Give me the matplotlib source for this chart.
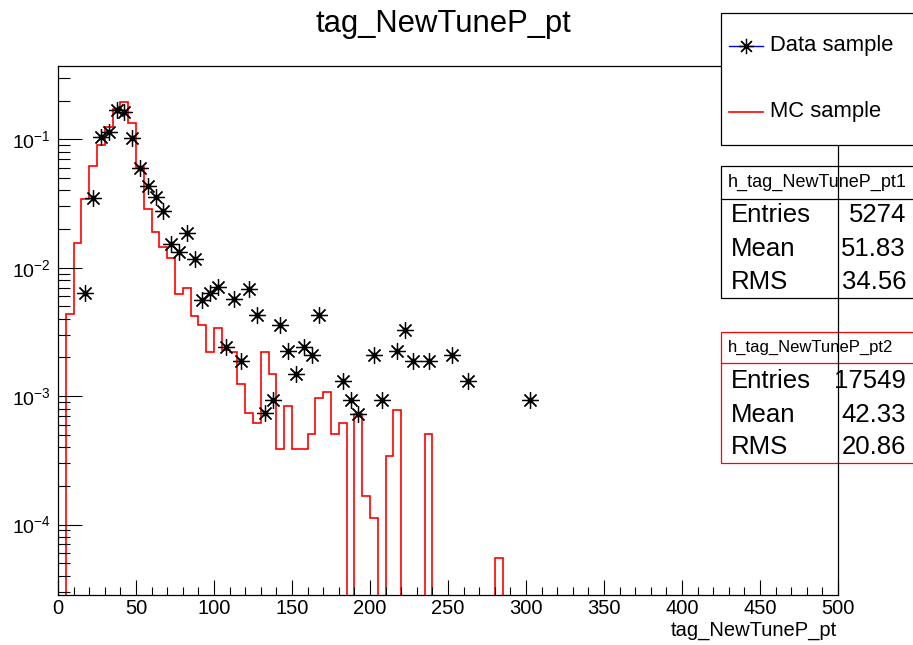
import numpy as np
import matplotlib
matplotlib.use("Agg")
import matplotlib.pyplot as plt
from matplotlib.lines import Line2D
from matplotlib.patches import Rectangle
from matplotlib.ticker import MultipleLocator, LogLocator, FixedLocator, NullFormatter

plt.rcParams['font.family'] = ['Liberation Sans', 'DejaVu Sans']
plt.rcParams['mathtext.fontset'] = 'custom'
plt.rcParams['mathtext.rm'] = 'Liberation Sans'
plt.rcParams['mathtext.it'] = 'Liberation Sans:italic'

W, H = 913, 645

# MC sample: normalised histogram, 5 GeV bins from 0 to 300 (empty above)
mc_edges = np.arange(0, 305, 5)
mc_values = [
    0.0, 0.0044, 0.0155, 0.034, 0.062, 0.090, 0.125, 0.171, 0.196, 0.133,
    0.0605, 0.0284, 0.019, 0.0146, 0.0120, 0.0062, 0.0070, 0.0042, 0.0036, 0.0022,
    0.0034, 0.0023, 0.0022, 0.00125, 0.00074, 0.00062, 0.0022, 0.0015, 0.00039, 0.00084,
    0.00039, 0.00039, 0.00051, 0.00096, 0.00108, 0.00051, 0.00062, 0.0, 0.00073, 0.000167,
    0.000112, 0.0, 0.00034, 0.00078, 0.0, 0.0, 0.0, 0.00051, 0.0, 0.0,
    0.0, 0.0, 0.0, 0.0, 0.0, 0.0, 5.5e-5, 0.0, 0.0, 0.0,
]

# Data sample: bin centres and normalised contents
data_x = [17.5, 22.5, 27.5, 32.5, 37.5, 42.5, 47.5, 52.5, 57.5, 62.5,
          67.5, 72.5, 77.5, 82.5, 87.5, 92.5, 97.5, 102.5, 107.5, 112.5,
          117.5, 122.5, 127.5, 132.5, 137.5, 142.5, 147.5, 152.5, 157.5, 162.5,
          167.5, 182.5, 187.5, 192.5, 202.5, 207.5, 217.5, 222.5, 227.5, 237.5,
          252.5, 262.5, 302.5]
data_y = [0.0063, 0.0347, 0.105, 0.1135, 0.169, 0.164, 0.102, 0.060, 0.0433, 0.0353,
          0.0278, 0.0153, 0.0132, 0.0187, 0.0117, 0.0056, 0.0064, 0.0071, 0.00242, 0.0057,
          0.00188, 0.0068, 0.0043, 0.00074, 0.00093, 0.0036, 0.00224, 0.0015, 0.00242, 0.00208,
          0.0043, 0.00131, 0.00093, 0.00073, 0.00208, 0.00093, 0.00225, 0.0033, 0.00187, 0.00187,
          0.00208, 0.00131, 0.00093]

y_ticks = [1e-4, 1e-3, 1e-2, 1e-1]
y_ticklabels = ['$10^{-4}$', '$10^{-3}$', '$10^{-2}$', '$10^{-1}$']

stats_data = [('Entries', '5274'), ('Mean', '51.83'), ('RMS', '34.56')]
stats_mc = [('Entries', '17549'), ('Mean', '42.33'), ('RMS', '20.86')]


def fx(px):
    return px / W


def fy(py):
    return 1 - py / H


fig = plt.figure(figsize=(W / 100, H / 100), dpi=100)
ax = fig.add_axes([fx(58), fy(595), (838 - 58) / W, (595 - 66) / H])

# MC histogram (empty bins fall below the log axis and get clipped)
mc_plot = np.where(np.array(mc_values) > 0, mc_values, 1e-9)
ax.stairs(mc_plot, mc_edges, color='red', lw=1.2, baseline=None)

# data points, ROOT asterisk marker
star = dict(marker=(8, 2, 0), markersize=12, markeredgewidth=0.9, color='black')
ax.plot(data_x, data_y, ls='none', **star)
ax.plot(data_x, data_y, ls='none', marker='o', markersize=3.2, color='black')

ax.set_yscale('log')
ax.set_xlim(0, 500)
ax.set_ylim(2.83e-5, 0.372)

ax.xaxis.set_major_locator(MultipleLocator(50))
ax.xaxis.set_minor_locator(MultipleLocator(10))
ax.yaxis.set_major_locator(FixedLocator(y_ticks))
ax.set_yticklabels(y_ticklabels)
ax.yaxis.set_minor_locator(LogLocator(base=10, subs=np.arange(2, 10)))
ax.yaxis.set_minor_formatter(NullFormatter())

ax.tick_params(axis='both', which='both', direction='in', top=False, right=False,
               width=0.8, colors='black')
ax.tick_params(axis='x', which='major', length=11, pad=3, labelsize=14.5)
ax.tick_params(axis='x', which='minor', length=5.5)
ax.tick_params(axis='y', which='major', length=17, pad=5, labelsize=14)
ax.tick_params(axis='y', which='minor', length=8.5)
for sp in ax.spines.values():
    sp.set_linewidth(0.9)
    sp.set_zorder(2.5)

# titles
fig.text(fx(443.5), fy(32), 'tag_NewTuneP_pt', ha='center', va='baseline', fontsize=22.3)
fig.text(fx(837), fy(636), 'tag_NewTuneP_pt', ha='right', va='baseline', fontsize=14.5)

ft = fig.transFigure

# legend box (covers frame)
ax.add_patch(Rectangle((fx(720.7), fy(145)), fx(930) - fx(720.7), fy(13.3) - fy(145),
                       transform=ft, clip_on=False, facecolor='white',
                       edgecolor='black', lw=0.9, zorder=5))
ax.add_line(Line2D([fx(729), fx(763)], [fy(46)] * 2, transform=ft, clip_on=False,
                   color='blue', lw=1.0, zorder=6))
ax.add_line(Line2D([fx(746)], [fy(46)], transform=ft, clip_on=False, ls='none',
                   zorder=6, **dict(star, markersize=11)))
ax.text(fx(770), fy(46), 'Data sample', transform=ft, fontsize=15.8, va='center',
        ha='left', zorder=6)
ax.add_line(Line2D([fx(729), fx(763)], [fy(112)] * 2, transform=ft, clip_on=False,
                   color='red', lw=1.2, zorder=6))
ax.text(fx(770), fy(112), 'MC sample', transform=ft, fontsize=15.8, va='center',
        ha='left', zorder=6)


# stat boxes (frame line runs over them)
def stat_box(top, bottom, divider, name, rows, edge, head_size, row_ys):
    ax.add_patch(Rectangle((fx(720.7), fy(bottom)), fx(930) - fx(720.7), fy(top) - fy(bottom),
                           transform=ft, clip_on=False, facecolor='white',
                           edgecolor=edge, lw=0.9, zorder=1))
    ax.add_line(Line2D([fx(720.7), fx(930)], [fy(divider)] * 2, transform=ft,
                       clip_on=False, color=edge, lw=0.9, zorder=1.5))
    ax.text(fx(728), fy((top + divider) / 2), name, transform=ft, fontsize=head_size,
            va='center', ha='left', zorder=2)
    for (lab, val), yy in zip(rows, row_ys):
        ax.text(fx(731), fy(yy), lab, transform=ft, fontsize=18.5, va='center',
                ha='left', zorder=2)
        ax.text(fx(906), fy(yy), val, transform=ft, fontsize=18.5, va='center',
                ha='right', zorder=2)


stat_box(165.7, 297.7, 199, 'h_tag_NewTuneP_pt1', stats_data, 'black', 13, [215, 249, 282])
stat_box(331.7, 463.3, 363.3, 'h_tag_NewTuneP_pt2', stats_mc, 'red', 12, [381, 415, 447])

fig.savefig('out.png', dpi=100)
